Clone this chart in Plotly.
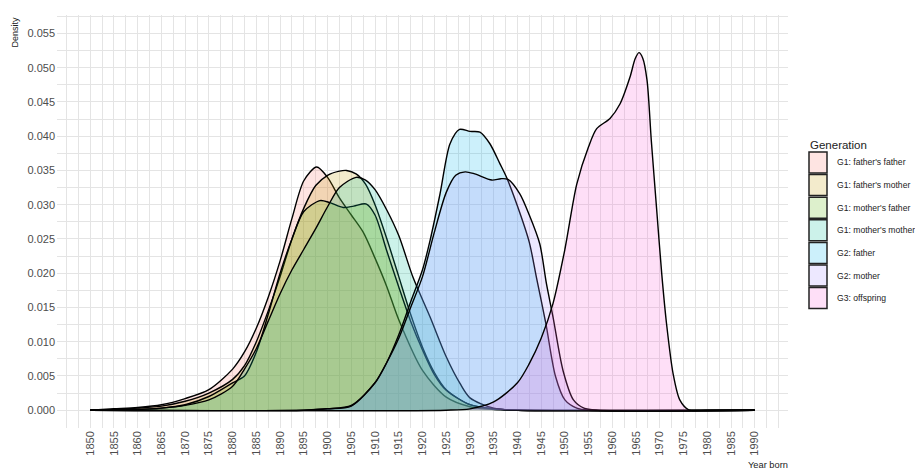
import plotly.graph_objects as go

# ---------------- data ----------------
generations = ["G1: father's father", "G1: father's mother", "G1: mother's father",
               "G1: mother's mother", "G2: father", "G2: mother", "G3: offspring"]
colors = ["#F8766D", "#C49A00", "#53B400", "#00C094", "#00B6EB", "#A58AFF", "#FB61D7"]

ff_year = [1850, 1855, 1860, 1865, 1870, 1875, 1880, 1882.5, 1885, 1887.5, 1890, 1892.5, 1895,
           1897.7, 1900, 1902.5, 1905, 1907.5, 1910, 1912.5, 1915, 1920, 1925, 1930, 1935, 1940, 1990]
ff_dens = [0, 0.0002, 0.0004, 0.0008, 0.0017, 0.0030, 0.0060, 0.0085, 0.0120, 0.0165, 0.0218,
           0.0280, 0.0335, 0.0355, 0.0340, 0.0310, 0.0285, 0.0260, 0.0222, 0.0180, 0.0132,
           0.0058, 0.0019, 0.0005, 0.0001, 0, 0]

fm_year = [1850, 1855, 1860, 1865, 1870, 1875, 1880, 1882.5, 1885, 1887.5, 1890, 1892.5, 1895,
           1897.5, 1900, 1902.5, 1904, 1906, 1908, 1910, 1912.5, 1915, 1917.5, 1920, 1922.5,
           1925, 1930, 1935, 1940, 1990]
fm_dens = [0, 0.0001, 0.0003, 0.0006, 0.0013, 0.0025, 0.0045, 0.0065, 0.0100, 0.0145, 0.0195,
           0.0250, 0.0295, 0.0328, 0.0343, 0.0349, 0.0350, 0.0345, 0.0330, 0.0300, 0.0250,
           0.0195, 0.0140, 0.0092, 0.0055, 0.0030, 0.0008, 0.0002, 0, 0]

mf_year = [1850, 1860, 1865, 1870, 1875, 1880, 1882.5, 1885, 1887.5, 1890, 1892.5, 1895, 1898.4,
           1900.5, 1903.3, 1905.5, 1908.2, 1910, 1912.5, 1915, 1917.5, 1920, 1922.5, 1925, 1930,
           1935, 1940, 1990]
mf_dens = [0, 0.0001, 0.0003, 0.0008, 0.0020, 0.0040, 0.0050, 0.0085, 0.0140, 0.0200, 0.0250,
           0.0290, 0.0306, 0.0303, 0.0296, 0.0298, 0.0301, 0.0285, 0.0232, 0.0180, 0.0130,
           0.0088, 0.0052, 0.0029, 0.0008, 0.0002, 0, 0]

mm_year = [1850, 1860, 1865, 1870, 1875, 1880, 1882.5, 1885, 1887.5, 1890, 1892.5, 1895, 1897.5,
           1900, 1902.5, 1906, 1908, 1910, 1912.5, 1915, 1918, 1921.6, 1925, 1927.9, 1930, 1935,
           1940, 1990]
mm_dens = [0, 0.0001, 0.0003, 0.0007, 0.0015, 0.0035, 0.0060, 0.0090, 0.0130, 0.0170, 0.0205,
           0.0235, 0.0265, 0.0297, 0.0325, 0.0340, 0.0336, 0.0322, 0.0292, 0.0255, 0.0194,
           0.0136, 0.0078, 0.0039, 0.0018, 0.0003, 0, 0]

gf_year = [1850, 1895, 1900, 1905, 1910, 1912.5, 1915, 1917.5, 1920, 1921.6, 1923.7, 1925.8,
           1927.8, 1930, 1932.1, 1934.2, 1936.3, 1937.7, 1940, 1942.5, 1944, 1946, 1948, 1950,
           1952.5, 1955, 1990]
gf_dens = [0, 0, 0.0002, 0.0007, 0.0040, 0.0070, 0.0110, 0.0158, 0.0205, 0.0248, 0.0316, 0.0389,
           0.0410, 0.0407, 0.0406, 0.0389, 0.0360, 0.0340, 0.0298, 0.0245, 0.0194, 0.0126,
           0.0050, 0.0015, 0.0003, 0, 0]

gm_year = [1850, 1895, 1900, 1905, 1910, 1912.5, 1915, 1917.5, 1920, 1922.5, 1925, 1927, 1929,
           1931, 1934.6, 1936.5, 1938, 1940.5, 1942.5, 1944.7, 1946.1, 1947.5, 1949.6, 1951.8,
           1954, 1957, 1990]
gm_dens = [0, 0, 0.0002, 0.0006, 0.0040, 0.0070, 0.0105, 0.0150, 0.0195, 0.0260, 0.0318, 0.0343,
           0.0348, 0.0345, 0.0336, 0.0338, 0.0337, 0.0316, 0.0285, 0.0243, 0.0185, 0.0136,
           0.0058, 0.0015, 0.0003, 0, 0]

off_year = [1850, 1925, 1930, 1935, 1940, 1942.5, 1945, 1947.5, 1950, 1952.5, 1955, 1956.7,
            1959.5, 1961.6, 1963.7, 1964.8, 1965.6, 1966.4, 1967.3, 1968.2, 1969.3, 1970.4,
            1971.4, 1972.8, 1974.2, 1976, 1980, 1990]
off_dens = [0, 0, 0.0002, 0.0012, 0.0040, 0.0068, 0.0105, 0.0156, 0.0235, 0.0330, 0.0385,
            0.0411, 0.0426, 0.0447, 0.0486, 0.0513, 0.0522, 0.0514, 0.0482, 0.0394, 0.0296,
            0.0199, 0.0127, 0.0053, 0.0015, 0.0001, 0, 0]

series_years = [ff_year, fm_year, mf_year, mm_year, gf_year, gm_year, off_year]
series_dens = [ff_dens, fm_dens, mf_dens, mm_dens, gf_dens, gm_dens, off_dens]

x_ticks = list(range(1850, 1991, 5))
y_ticks = [i * 0.005 for i in range(12)]

# ---------------- figure ----------------
W, H = 915, 473
ML, MR, MT, MB = 57, 127, 15, 45
PW, PH = W - ML - MR, H - MT - MB
FONT = "Liberation Sans, Arial, sans-serif"
ALPHA = 0.2
GRID = "#E4E4E4"


def rgba(hex_color, a):
    h = hex_color.lstrip("#")
    r, g, b = int(h[0:2], 16), int(h[2:4], 16), int(h[4:6], 16)
    return f"rgba({r},{g},{b},{a})"


def px_x(px):
    return (px - ML) / PW


def px_y(py):
    return (H - MB - py) / PH


fig = go.Figure()
for name, col, xs, ys in zip(generations, colors, series_years, series_dens):
    fig.add_trace(go.Scatter(
        x=xs, y=ys, name=name, mode="lines",
        line=dict(color="black", width=1.4, shape="spline", smoothing=0.8),
        fill="tozeroy", fillcolor=rgba(col, ALPHA),
        showlegend=False, hoverinfo="x+y+name",
    ))

minor_x = [1845 + 2.5 * i for i in range(61)]
minor_y = [-0.0025 + 0.0025 * i for i in range(25)]

fig.update_layout(
    width=W, height=H,
    margin=dict(l=ML, r=MR, t=MT, b=MB, autoexpand=False),
    plot_bgcolor="white", paper_bgcolor="white",
    font=dict(family=FONT, color="#444444"),
    xaxis=dict(
        range=[1843, 1997], tickmode="array", tickvals=x_ticks,
        ticktext=[str(v) for v in x_ticks], tickangle=-90,
        tickfont=dict(size=11, color="#4D4D4D", family=FONT),
        showgrid=True, gridcolor=GRID, gridwidth=1, zeroline=False,
        showline=False, ticks="", automargin=False,
        minor=dict(tickmode="array", tickvals=minor_x, showgrid=True,
                   gridcolor=GRID, gridwidth=1, ticks=""),
    ),
    yaxis=dict(
        range=[-0.0026, 0.0577], tickmode="array", tickvals=y_ticks,
        ticktext=[f"{v:.3f}" for v in y_ticks],
        tickfont=dict(size=11, color="#4D4D4D", family=FONT),
        showgrid=True, gridcolor=GRID, gridwidth=1, zeroline=False,
        showline=False, ticks="", automargin=False, ticklabelstandoff=1,
        minor=dict(tickmode="array", tickvals=minor_y, showgrid=True,
                   gridcolor=GRID, gridwidth=1, ticks=""),
    ),
)

# axis titles
fig.add_annotation(text="Density", xref="paper", yref="paper", x=px_x(14), y=px_y(15),
                   xanchor="center", yanchor="top", textangle=-90, showarrow=False,
                   font=dict(size=9, color="#222222", family=FONT))
fig.add_annotation(text="Year born", xref="paper", yref="paper", x=px_x(790), y=px_y(465),
                   xanchor="right", yanchor="middle", showarrow=False,
                   font=dict(size=9.3, color="#222222", family=FONT))

# legend (drawn manually to mimic square keys)
fig.add_annotation(text="Generation", xref="paper", yref="paper", x=px_x(808), y=px_y(145),
                   xanchor="left", yanchor="middle", showarrow=False,
                   font=dict(size=11.5, color="#222222", family=FONT))
key_top, key_h, key_gap = 152, 21, 22.6
for i, (name, col) in enumerate(zip(generations, colors)):
    y0 = key_top + i * key_gap
    fig.add_shape(type="rect", xref="paper", yref="paper",
                  x0=px_x(809), x1=px_x(827), y0=px_y(y0 + key_h), y1=px_y(y0),
                  fillcolor=rgba(col, ALPHA), line=dict(color="#222222", width=1.5))
    fig.add_annotation(text=name, xref="paper", yref="paper", x=px_x(835), y=px_y(y0 + key_h / 2),
                       xanchor="left", yanchor="middle", showarrow=False,
                       font=dict(size=8.6, color="#222222", family=FONT))

fig.write_html("out.html", config={"displayModeBar": False},
               post_script="document.body.style.margin='0';document.body.style.padding='0';")
